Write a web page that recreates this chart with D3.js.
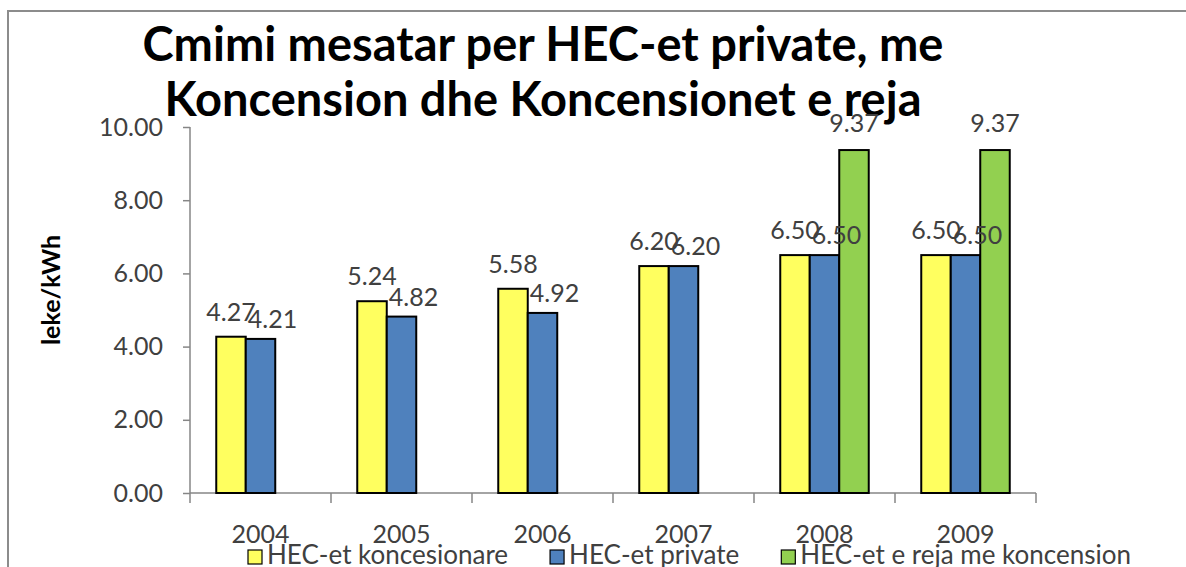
<!DOCTYPE html>
<html>
<head>
<meta charset="utf-8">
<script src="https://cdn.jsdelivr.net/npm/d3@7"></script>
<style>
  body { margin: 0; background: #fff; }
  svg { display: block; font-family: Lato, "Open Sans", sans-serif; }
</style>
</head>
<body>
<div id="chart"></div>
<script>
// Average price chart for HEC-s (2004-2009)

const FRAME_WIDTH = 1186;
const FRAME_HEIGHT = 567;
const MARGINS = {left: 190, right: 150, top: 127, bottom: 74};

const VIS_WIDTH = FRAME_WIDTH - MARGINS.left - MARGINS.right;
const VIS_HEIGHT = FRAME_HEIGHT - MARGINS.top - MARGINS.bottom;

// data
const YEARS = ["2004", "2005", "2006", "2007", "2008", "2009"];
const SERIES = ["HEC-et koncesionare", "HEC-et private", "HEC-et e reja me koncension"];
const KONCESIONARE = [4.27, 5.24, 5.58, 6.20, 6.50, 6.50];
const PRIVATE = [4.21, 4.82, 4.92, 6.20, 6.50, 6.50];
const REJA = [null, null, null, null, 9.37, 9.37];
const Y_TICKS = [0, 2, 4, 6, 8, 10];

const COLORS = ["#ffff5f", "#4f81bd", "#92d050"];
// label nudges per series (dx, dy)
const LABEL_DX = [0, 12, 0];
const LABEL_DY = [-16, -11, -18];

const VALUES = [KONCESIONARE, PRIVATE, REJA];

const rows = YEARS.map((yr, i) => ({
    year: yr,
    vals: SERIES.map((s, j) => ({series: j, value: VALUES[j][i]}))
}));

const FRAME = d3.select("#chart").append("svg")
    .attr("width", FRAME_WIDTH)
    .attr("height", FRAME_HEIGHT);

// outer chart border (top and left visible)
FRAME.append("path")
    .attr("d", "M8,567 L8,11 L1186,11")
    .attr("fill", "none")
    .attr("stroke", "#8c8c8c")
    .attr("stroke-width", 2);

// title
const title = FRAME.append("text")
    .attr("text-anchor", "middle")
    .attr("font-weight", "bold")
    .attr("font-size", "47px")
    .attr("fill", "#000");
title.append("tspan").attr("x", 543).attr("y", 61).text("Cmimi mesatar per HEC-et private, me");
title.append("tspan").attr("x", 543).attr("y", 116).text("Koncension dhe Koncensionet e reja");

const xSCALE = d3.scaleBand()
    .domain(YEARS)
    .range([0, VIS_WIDTH])
    .padding(0);

const xSUB = d3.scaleBand()
    .domain(d3.range(SERIES.length))
    .range([0, xSCALE.bandwidth()])
    .paddingInner(0)
    .paddingOuter(0.89);

const ySCALE = d3.scaleLinear()
    .domain([0, 10])
    .range([VIS_HEIGHT, 0]);

const plot = FRAME.append("g")
    .attr("transform", "translate(" + MARGINS.left + "," + MARGINS.top + ")");

// y axis
const yAxis = plot.append("g")
    .call(d3.axisLeft(ySCALE).tickValues(Y_TICKS).tickSize(7).tickPadding(20)
        .tickFormat(d3.format(".2f")));
yAxis.select(".domain").attr("stroke", "#868686").attr("stroke-width", 1.5)
    .attr("d", "M0,0V" + VIS_HEIGHT);
yAxis.selectAll(".tick line").attr("stroke", "#868686").attr("stroke-width", 1.5);
yAxis.selectAll("text")
    .attr("font-size", "25px")
    .attr("fill", "#404040")
    .attr("font-family", "Lato, sans-serif");

// x axis with ticks between categories
const xAxisG = plot.append("g")
    .attr("transform", "translate(0," + VIS_HEIGHT + ")");
xAxisG.append("line")
    .attr("x1", 0).attr("x2", VIS_WIDTH)
    .attr("stroke", "#868686").attr("stroke-width", 1.5);
xAxisG.selectAll(".sep")
    .data(YEARS.concat(["end"]))
    .enter()
    .append("line")
    .attr("x1", (d, i) => i * xSCALE.step())
    .attr("x2", (d, i) => i * xSCALE.step())
    .attr("y1", 0).attr("y2", 10)
    .attr("stroke", "#868686").attr("stroke-width", 1.5);
xAxisG.selectAll(".yr")
    .data(YEARS)
    .enter()
    .append("text")
    .attr("x", (d) => xSCALE(d) + xSCALE.bandwidth() / 2)
    .attr("y", 50)
    .attr("text-anchor", "middle")
    .attr("font-size", "25px")
    .attr("fill", "#404040")
    .text((d) => d);

// y axis title
FRAME.append("text")
    .attr("transform", "translate(60,290) rotate(-90)")
    .attr("text-anchor", "middle")
    .attr("font-weight", "bold")
    .attr("font-size", "25px")
    .attr("fill", "#000")
    .text("leke/kWh");

// bars
const groups = plot.selectAll(".grp")
    .data(rows)
    .enter()
    .append("g")
    .attr("transform", (d) => "translate(" + xSCALE(d.year) + ",0)");

groups.selectAll("rect")
    .data((d) => d.vals.filter((v) => v.value !== null))
    .enter()
    .append("rect")
    .attr("x", (d) => xSUB(d.series))
    .attr("y", (d) => ySCALE(d.value))
    .attr("width", xSUB.bandwidth())
    .attr("height", (d) => VIS_HEIGHT - ySCALE(d.value))
    .attr("fill", (d) => COLORS[d.series])
    .attr("stroke", "#000")
    .attr("stroke-width", 2);

groups.selectAll(".lbl")
    .data((d) => d.vals.filter((v) => v.value !== null))
    .enter()
    .append("text")
    .attr("x", (d) => xSUB(d.series) + xSUB.bandwidth() / 2 + LABEL_DX[d.series])
    .attr("y", (d) => ySCALE(d.value) + LABEL_DY[d.series])
    .attr("text-anchor", "middle")
    .attr("font-size", "25px")
    .attr("fill", "#404040")
    .text((d) => d3.format(".2f")(d.value));

// legend
const legend = FRAME.append("g");
let lx = 248;
SERIES.forEach((s, i) => {
    legend.append("rect")
        .attr("x", lx).attr("y", 550)
        .attr("width", 14).attr("height", 14)
        .attr("fill", COLORS[i])
        .attr("stroke", "#000")
        .attr("stroke-width", 1.2);
    const t = legend.append("text")
        .attr("x", lx + 19).attr("y", 564)
        .attr("font-size", "26px")
        .attr("fill", "#404040")
        .text(s);
    lx += 19 + t.node().getComputedTextLength() + 42;
});
</script>
</body>
</html>
